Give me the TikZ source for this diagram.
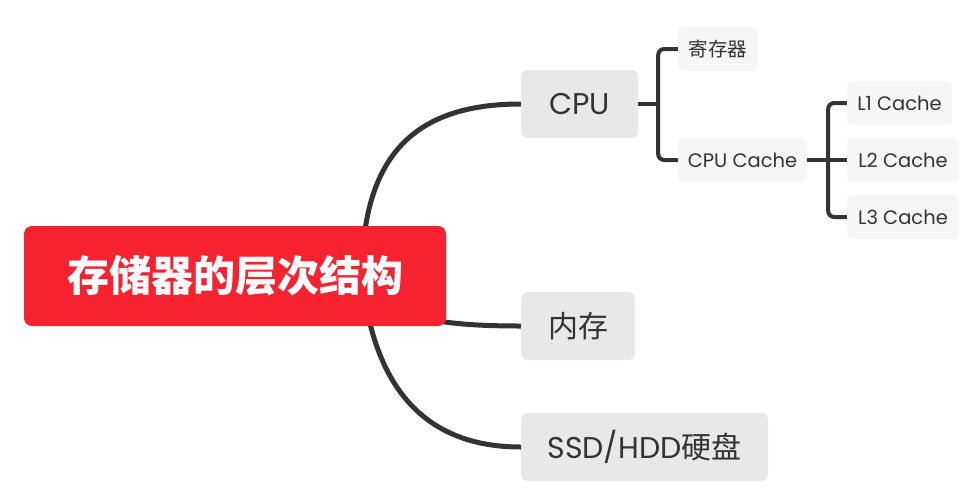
\documentclass[tikz,border=0pt]{standalone}
\usepackage{fontspec}
\setmainfont{Poppins}
\newfontfamily\cjk{Noto Sans CJK SC}
\usepackage{xcolor}
\usetikzlibrary{calc}
\definecolor{rootred}{RGB}{246,34,48}
\definecolor{topgray}{RGB}{232,232,232}
\definecolor{subgray}{RGB}{246,246,246}
\definecolor{linegray}{RGB}{51,51,51}

\begin{document}
\begin{tikzpicture}[x=1pt,y=-1pt]
        \tikzset{branch/.style={draw=linegray, line width=5pt},
                 twig/.style={draw=linegray, line width=4pt, rounded corners=6pt},
                 topic/.style={fill=topgray, rounded corners=7pt, inner sep=0pt, text=linegray, font=\fontsize{30}{34}\selectfont},
                 subtopic/.style={fill=subgray, rounded corners=6pt, inner sep=0pt, text=linegray, minimum height=44pt, font=\fontsize{19.5}{23}\selectfont}}
        \useasboundingbox[fill=white] (0,0) rectangle (977,501);
        % main branches
        \node[topic, minimum width=117pt, minimum height=68pt] (cpu) at (579.5,104) {CPU};
        \node[topic, minimum width=114pt, minimum height=68pt] (mem) at (578,326) {\cjk 内存};
        \node[topic, minimum width=247pt, minimum height=68pt] (disk) at (644.5,447) {SSD/HDD{\cjk 硬盘}};
        \coordinate (hub) at (362,276);
        \draw[branch] (hub) .. controls (362,150) and (420,104) .. (cpu.west);
        \draw[branch] (hub) .. controls (380,318) and (440,326) .. (mem.west);
        \draw[branch] (hub) .. controls (375,405) and (440,447) .. (disk.west);
        % root
        \node[fill=rootred, rounded corners=8pt, minimum width=422pt, minimum height=100pt, inner sep=0pt,
              text=white, font=\cjk\fontsize{42}{48}\selectfont\bfseries] (root) at (235,276) {存储器的层次结构};
        % cpu children
        \node[subtopic, minimum width=80pt] (reg) at (718,49) {\cjk 寄存器};
        \node[subtopic, minimum width=129pt] (cache) at (742.5,160) {CPU Cache};
        \coordinate (cpuj) at ($(cpu.east)+(20,0)$);
        \draw[twig] (cpu.east) -- (cpuj);
        \draw[twig] (reg.west) -| (cpuj) |- (cache.west);
        % cache levels
        \node[subtopic, minimum width=105pt] (l1) at (899.5,103) {L1 Cache};
        \node[subtopic, minimum width=112pt] (l2) at (903,160) {L2 Cache};
        \node[subtopic, minimum width=112pt] (l3) at (903,217) {L3 Cache};
        \coordinate (cachej) at ($(cache.east)+(21,0)$);
        \draw[twig] (cache.east) -- (l2.west);
        \draw[twig] (l1.west) -| (cachej) |- (l3.west);
\end{tikzpicture}
\end{document}
